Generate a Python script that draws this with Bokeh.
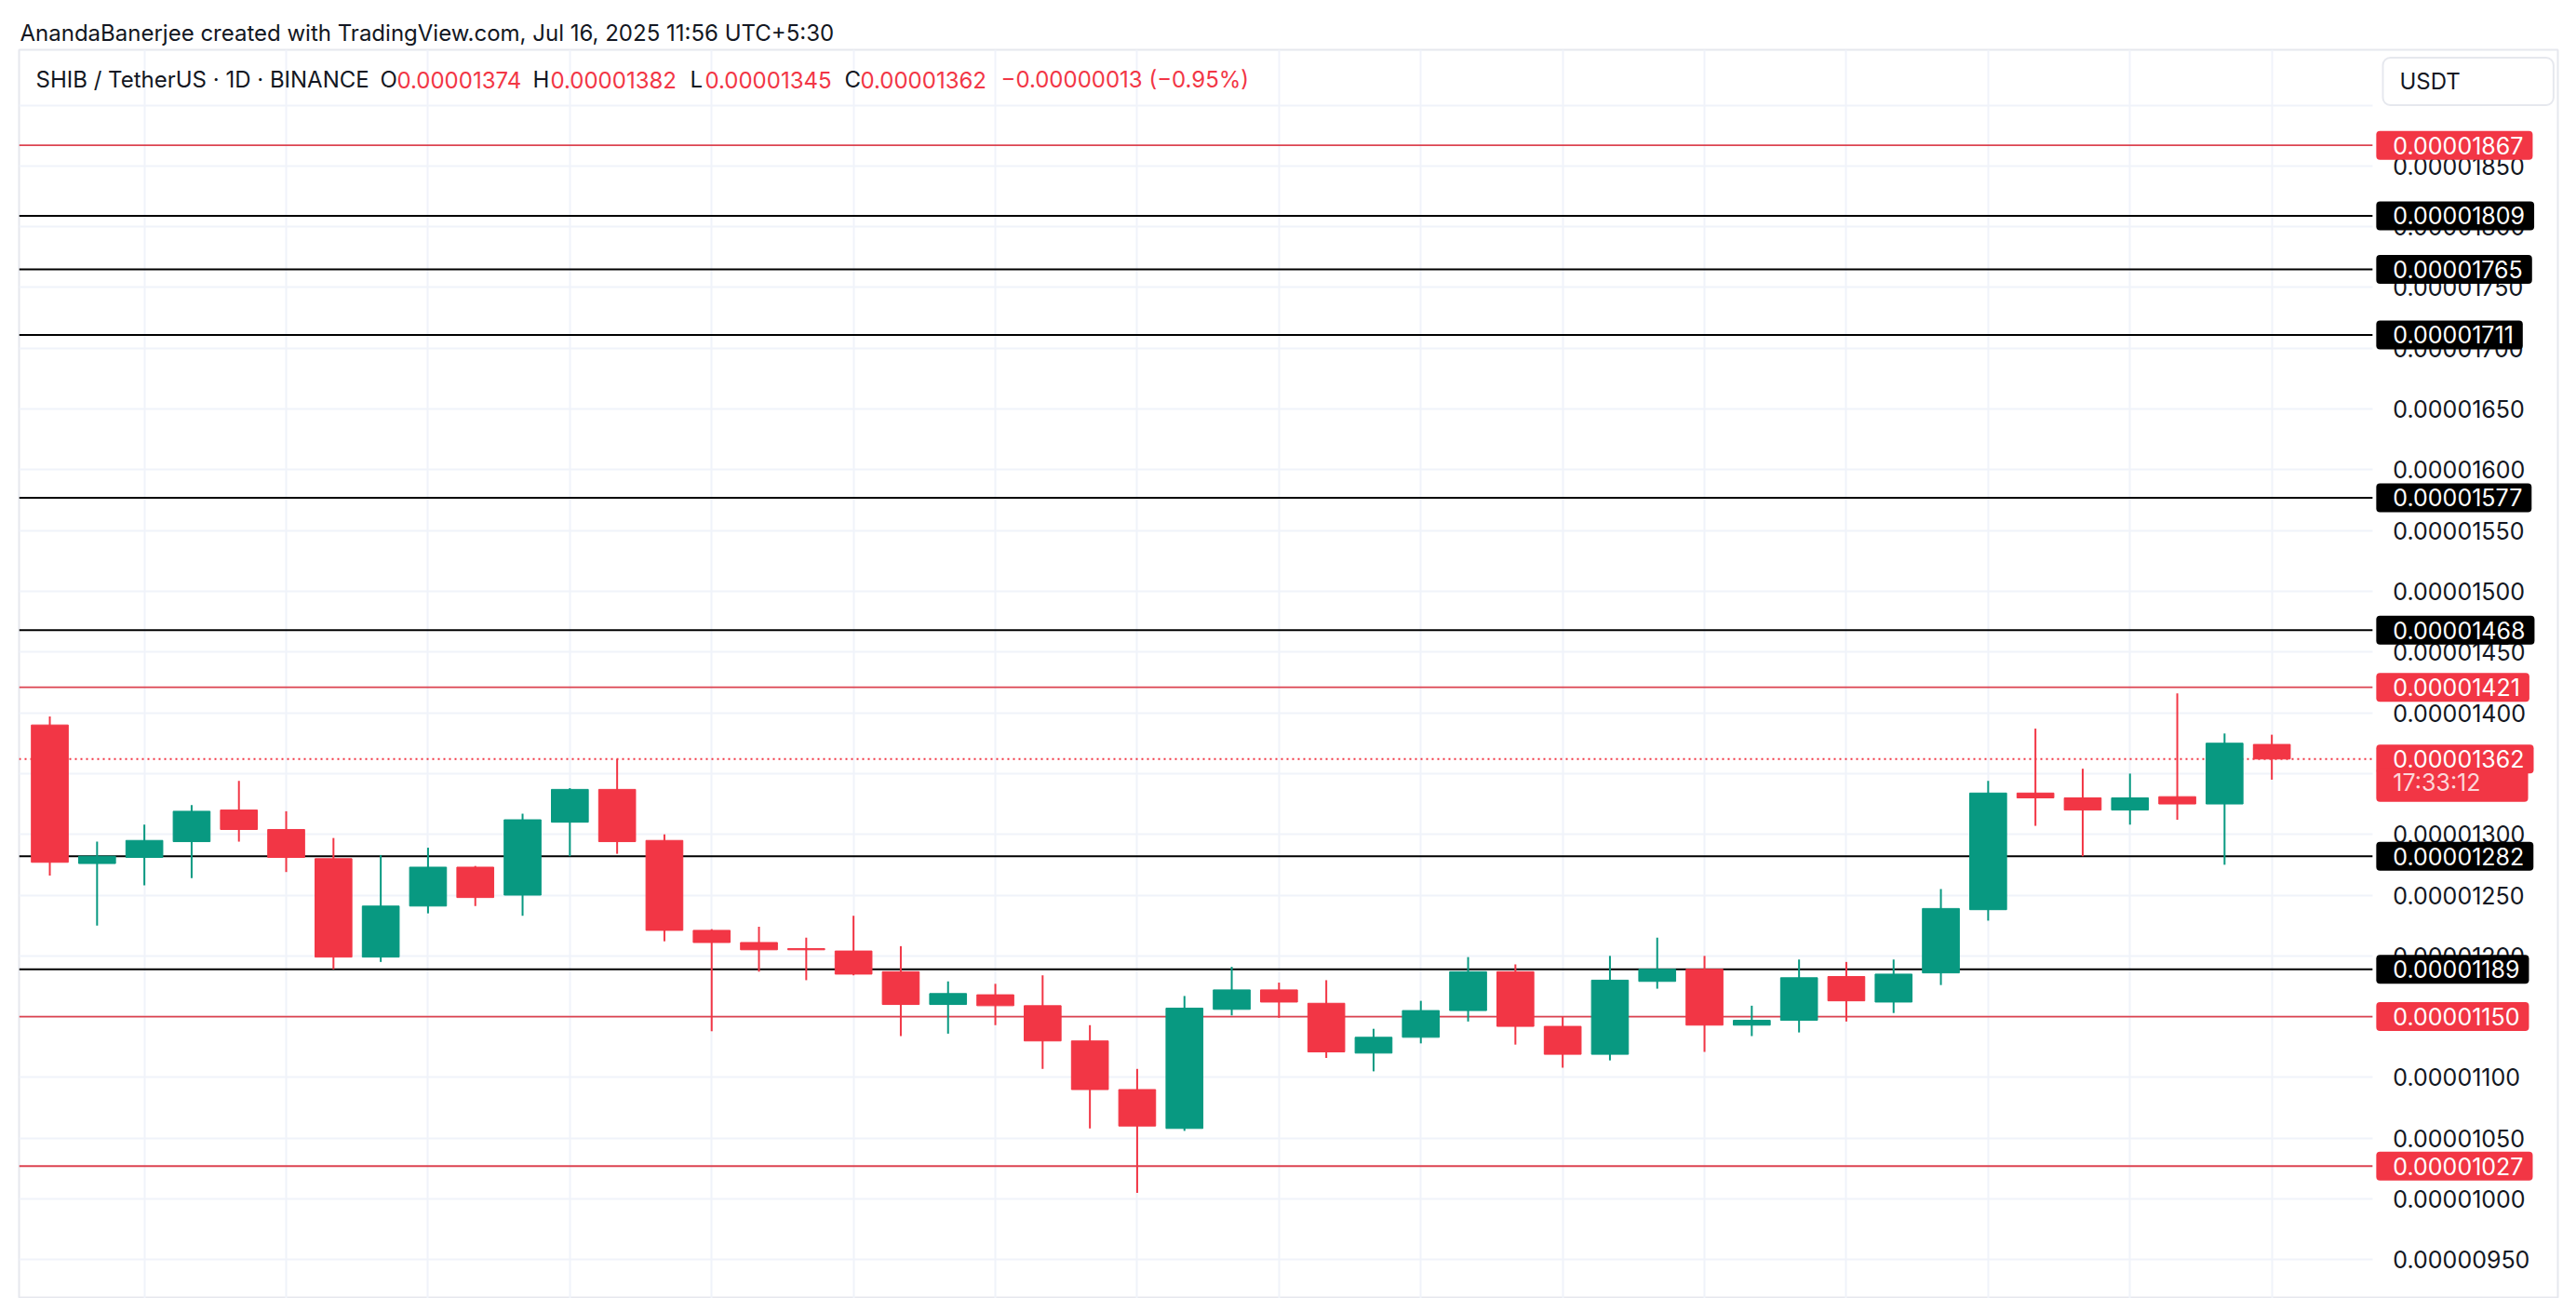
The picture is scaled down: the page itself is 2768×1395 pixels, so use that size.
from bokeh.plotting import figure
from bokeh.models import ColumnDataSource, Range1d, FixedTicker, Label
from bokeh.core.properties import value
from bokeh.embed import file_html
from bokeh.resources import INLINE

# ---- data (SHIB / USDT, daily) ----
open_ = [1390e-8, 1276e-8, 1281e-8, 1294e-8, 1320e-8, 1304e-8, 1280e-8, 1199e-8, 1241e-8, 1273e-8,
         1250e-8, 1310e-8, 1337e-8, 1295e-8, 1221e-8, 1211e-8, 1206e-8, 1204e-8, 1187e-8, 1160e-8,
         1168e-8, 1159e-8, 1130e-8, 1090e-8, 1058e-8, 1156e-8, 1172e-8, 1161e-8, 1120e-8, 1133e-8,
         1155e-8, 1187e-8, 1142e-8, 1119e-8, 1179e-8, 1189e-8, 1143e-8, 1147e-8, 1183e-8, 1162e-8,
         1186e-8, 1238e-8, 1334e-8, 1330e-8, 1320e-8, 1331e-8, 1325e-8, 1374e-8]
high = [1397e-8, 1294e-8, 1308e-8, 1324e-8, 1344e-8, 1319e-8, 1297e-8, 1283e-8, 1289e-8, 1274e-8,
        1317e-8, 1338e-8, 1362e-8, 1300e-8, 1222e-8, 1224e-8, 1215e-8, 1233e-8, 1208e-8, 1179e-8,
        1177e-8, 1184e-8, 1143e-8, 1107e-8, 1167e-8, 1191e-8, 1178e-8, 1180e-8, 1140e-8, 1163e-8,
        1199e-8, 1193e-8, 1150e-8, 1200e-8, 1215e-8, 1200e-8, 1159e-8, 1197e-8, 1195e-8, 1197e-8,
        1255e-8, 1344e-8, 1387e-8, 1354e-8, 1350e-8, 1416e-8, 1383e-8, 1382e-8]
low = [1266e-8, 1225e-8, 1258e-8, 1264e-8, 1294e-8, 1269e-8, 1189e-8, 1195e-8, 1235e-8, 1241e-8,
       1233e-8, 1282e-8, 1284e-8, 1212e-8, 1138e-8, 1187e-8, 1180e-8, 1184e-8, 1134e-8, 1136e-8,
       1143e-8, 1107e-8, 1058e-8, 1005e-8, 1056e-8, 1151e-8, 1149e-8, 1116e-8, 1105e-8, 1128e-8,
       1146e-8, 1127e-8, 1108e-8, 1114e-8, 1173e-8, 1121e-8, 1134e-8, 1137e-8, 1146e-8, 1153e-8,
       1176e-8, 1229e-8, 1307e-8, 1282e-8, 1308e-8, 1312e-8, 1275e-8, 1345e-8]
close = [1277e-8, 1282e-8, 1295e-8, 1319e-8, 1304e-8, 1281e-8, 1199e-8, 1241e-8, 1273e-8, 1248e-8,
         1312e-8, 1337e-8, 1294e-8, 1221e-8, 1211e-8, 1205e-8, 1205e-8, 1185e-8, 1160e-8, 1169e-8,
         1159e-8, 1130e-8, 1090e-8, 1060e-8, 1157e-8, 1172e-8, 1162e-8, 1121e-8, 1133e-8, 1155e-8,
         1187e-8, 1142e-8, 1119e-8, 1180e-8, 1189e-8, 1143e-8, 1147e-8, 1182e-8, 1163e-8, 1185e-8,
         1239e-8, 1334e-8, 1330e-8, 1320e-8, 1330e-8, 1325e-8, 1375e-8, 1362e-8]

levels_black = [1809e-8, 1765e-8, 1711e-8, 1577e-8, 1468e-8, 1282e-8, 1189e-8]
levels_red = [1867e-8, 1421e-8, 1150e-8, 1027e-8]

y_label_ticks = [950e-8, 1000e-8, 1050e-8, 1100e-8, 1150e-8, 1200e-8, 1250e-8, 1300e-8, 1350e-8, 1400e-8,
                 1450e-8, 1500e-8, 1550e-8, 1600e-8, 1650e-8, 1700e-8, 1750e-8, 1800e-8, 1850e-8]
y_grid_ticks = y_label_ticks + [1900e-8]

header = "AnandaBanerjee created with TradingView.com, Jul 16, 2025 11:56 UTC+5:30"
symbol = "SHIB / TetherUS \u00b7 1D \u00b7 BINANCE"
countdown = "17:33:12"

GREEN = "#089981"
RED = "#f23645"
RED_LINE = "#dc4350"
INK = "#131722"
FONT = "Inter"
X_START = -0.65
PRICE_SCALE_X = 49.13   # x (in bar units) where the price scale panel begins

n = len(close)
xs = list(range(n))
colors = [GREEN if c >= o else RED for o, c in zip(open_, close)]
src = ColumnDataSource(dict(
    x=xs, open=open_, high=high, low=low, close=close,
    top=[max(o, c) for o, c in zip(open_, close)],
    bottom=[min(o, c) for o, c in zip(open_, close)],
    color=colors,
))

p = figure(width=2768, height=1395, output_backend="svg", toolbar_location=None,
           x_range=Range1d(X_START, 53.05), y_range=Range1d(918.1e-8, 1945.6e-8),
           x_axis_location=None, y_axis_location=None,
           min_border_left=20, min_border_right=20, min_border_top=53, min_border_bottom=0,
           background_fill_color="white", border_fill_color="white")
p.outline_line_color = "#e6e8ee"
p.outline_line_width = 2

p.title.text = header
p.title.text_font = FONT
p.title.text_font_size = "24px"
p.title.text_font_style = "normal"
p.title.text_color = INK
p.title.align = "left"
p.title.offset = 1
p.title.standoff = 8

p.xgrid.ticker = FixedTicker(ticks=list(range(2, n, 3)))
p.xgrid.grid_line_color = "#f0f3fa"
p.xgrid.grid_line_width = 2
p.ygrid.ticker = FixedTicker(ticks=y_grid_ticks)
p.ygrid.grid_line_color = "#f0f3fa"
p.ygrid.grid_line_width = 2
p.ygrid.cross_bounds = (X_START, PRICE_SCALE_X)

# level lines (end where the price scale begins)
def hlines(vals, **kw):
    k = len(vals)
    p.segment(x0=[X_START] * k, x1=[PRICE_SCALE_X] * k, y0=vals, y1=vals, **kw)

hlines(levels_black, line_color="black", line_width=2)
hlines(levels_red, line_color=RED_LINE, line_width=1.8)
hlines([close[-1]], line_color=RED, line_width=2, line_dash="2 4")

# candles
p.segment(x0="x", x1="x", y0="low", y1="high", color="color", line_width=2, source=src)
p.vbar(x="x", width=0.78, top="top", bottom="bottom", fill_color="color", line_color="color",
       line_width=1, source=src)

# price scale: tick labels
p.text(x=[PRICE_SCALE_X] * len(y_label_ticks), y=y_label_ticks,
       text=[f"{v:.8f}" for v in y_label_ticks], x_offset=22,
       text_align="left", text_baseline="middle", text_font=value(FONT),
       text_font_size="25px", text_color=INK, level="overlay")

# price scale: level labels
lvl_vals = levels_red + levels_black
lvl_cols = [RED] * len(levels_red) + ["black"] * len(levels_black)
lvl_src = ColumnDataSource(dict(x=[PRICE_SCALE_X] * len(lvl_vals), y=lvl_vals,
                                text=[f"{v:.8f}" for v in lvl_vals], bg=lvl_cols))
p.text(x="x", y="y", text="text", source=lvl_src, x_offset=4,
       text_align="left", text_baseline="middle", text_font=value(FONT),
       text_font_size="25px", text_color="white", background_fill_color="bg",
       padding=dict(left=18, right=10, top=6, bottom=6), border_radius=4, level="overlay")

# current price + countdown
p.text(x=[PRICE_SCALE_X], y=[close[-1]], text=[f"{close[-1]:.8f}"], x_offset=4,
       text_align="left", text_baseline="middle", text_font=value(FONT),
       text_font_size="25px", text_color="white", background_fill_color=RED,
       padding=dict(left=18, right=10, top=6, bottom=6), border_radius=4, level="overlay")
p.text(x=[PRICE_SCALE_X], y=[close[-1]], text=[countdown], x_offset=4, y_offset=28,
       text_align="left", text_baseline="middle", text_font=value(FONT),
       text_font_size="25px", text_color="#fcd7da", background_fill_color=RED,
       padding=dict(left=18, right=51, top=0, bottom=6), border_radius=4, level="overlay")

# USDT box
p.add_layout(Label(x=2560, y=87, x_units="canvas", y_units="canvas", text="USDT",
                   text_color=INK, text_font=FONT, text_font_size="24px",
                   text_align="left", text_baseline="middle",
                   background_fill_color="white", border_line_color="#e6e8ee", border_line_width=2,
                   border_radius=8, padding=dict(left=18, right=100, top=11, bottom=11)))

# legend line
chg = close[-1] - close[-2]
pct = chg / close[-2] * 100
sign = "\u2212" if chg < 0 else "+"
pieces = [
    (38, symbol, INK),
    (408, "O", INK), (426, f"{open_[-1]:.8f}", RED),
    (572, "H", INK), (591, f"{high[-1]:.8f}", RED),
    (741, "L", INK), (757, f"{low[-1]:.8f}", RED),
    (907, "C", INK), (924, f"{close[-1]:.8f}", RED),
    (1075, f"{sign}{abs(chg):.8f} ({sign}{abs(pct):.2f}%)", RED),
]
for px, t, col in pieces:
    p.add_layout(Label(x=px, y=85, x_units="canvas", y_units="canvas", text=t,
                       text_color=col, text_font=FONT, text_font_size="24px",
                       text_align="left", text_baseline="middle"))

open("out.html", "w").write(file_html(p, INLINE))
